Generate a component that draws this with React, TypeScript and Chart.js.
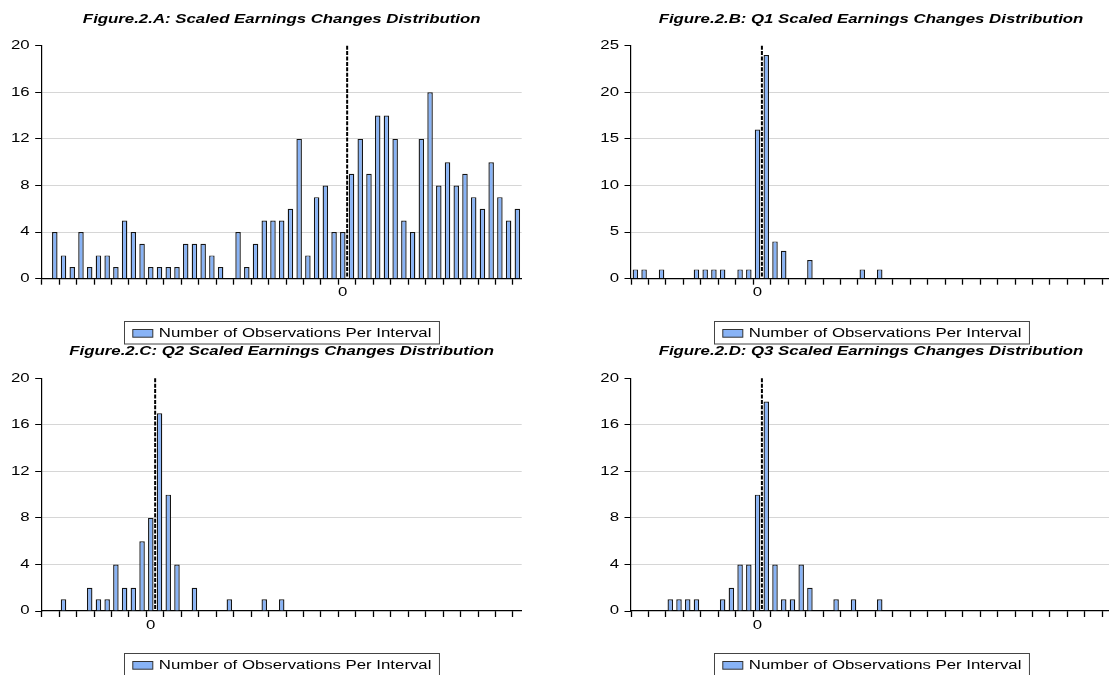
import React, { useEffect, useRef } from 'react';
import { Chart, registerables } from 'chart.js';

Chart.register(...registerables);

// ---- Data (counts per interval; one entry per bin) ----
const binsA = [0, 4, 2, 1, 4, 1, 2, 2, 1, 5, 4, 3, 1, 1, 1, 1, 3, 3, 3, 2, 1, 0, 4, 1, 3, 5, 5, 5, 6, 12, 2, 7, 8, 4, 4, 9, 12, 9, 14, 14, 12, 5, 4, 12, 16, 8, 10, 8, 9, 7, 6, 10, 7, 5, 6];
const binsB = [1, 1, 0, 1, 0, 0, 0, 1, 1, 1, 1, 0, 1, 1, 16, 24, 4, 3, 0, 0, 2, 0, 0, 0, 0, 0, 1, 0, 1, 0, 0, 0, 0, 0, 0, 0, 0, 0, 0, 0, 0, 0, 0, 0, 0, 0, 0, 0, 0, 0, 0, 0, 0, 0, 0];
const binsC = [0, 0, 1, 0, 0, 2, 1, 1, 4, 2, 2, 6, 8, 17, 10, 4, 0, 2, 0, 0, 0, 1, 0, 0, 0, 1, 0, 1, 0, 0, 0, 0, 0, 0, 0, 0, 0, 0, 0, 0, 0, 0, 0, 0, 0, 0, 0, 0, 0, 0, 0, 0, 0, 0, 0];
const binsD = [0, 0, 0, 0, 1, 1, 1, 1, 0, 0, 1, 2, 4, 4, 10, 18, 4, 1, 1, 4, 2, 0, 0, 1, 0, 1, 0, 0, 1, 0, 0, 0, 0, 0, 0, 0, 0, 0, 0, 0, 0, 0, 0, 0, 0, 0, 0, 0, 0, 0, 0, 0, 0, 0, 0];

// index of the bin labelled "0" (the zero line sits on its right edge)
const zeroA = 34;
const zeroB = 14;
const zeroC = 12;
const zeroD = 14;

const titleA = 'Figure.2.A: Scaled Earnings Changes Distribution';
const titleB = 'Figure.2.B: Q1 Scaled Earnings Changes Distribution';
const titleC = 'Figure.2.C: Q2 Scaled Earnings Changes Distribution';
const titleD = 'Figure.2.D: Q3 Scaled Earnings Changes Distribution';

const seriesLabel = 'Number of Observations Per Interval';
const xTickLabels = ['0'];

const yMaxA = 20, yStepA = 4;
const yMaxB = 25, yStepB = 5;
const yMaxC = 20, yStepC = 4;
const yMaxD = 20, yStepD = 4;

// ---- Styling ----
const FONT = "'Liberation Sans', Arial, Helvetica, sans-serif";
const BAR_FILL = '#88B3F6';
const BAR_EDGE = '#141414';
const GRID = '#d6d6d6';
const TEXT_STRETCH = 1.4; // reference text glyphs are horizontally stretched
const CANVAS_W = 560;

// draws every text horizontally stretched around its anchor point
const stretchTextPlugin = {
  id: 'stretchText',
  beforeDraw(chart: any) {
    const ctx = chart.ctx;
    if (ctx.__stretched) return;
    const orig = ctx.fillText;
    ctx.fillText = function (text: string, x: number, y: number, maxWidth?: number) {
      this.save();
      this.translate(x, y);
      this.scale(TEXT_STRETCH, 1);
      if (maxWidth === undefined) orig.call(this, text, 0, 0);
      else orig.call(this, text, 0, 0, maxWidth / TEXT_STRETCH);
      this.restore();
    };
    ctx.__stretched = true;
  },
};

const zeroLinePlugin = {
  id: 'zeroLine',
  afterDatasetsDraw(chart: any, _args: any, opts: any) {
    const xs = chart.scales.x;
    const { top, bottom } = chart.chartArea;
    const px = (xs.getPixelForValue(opts.index) + xs.getPixelForValue(opts.index + 1)) / 2;
    const ctx = chart.ctx;
    ctx.save();
    ctx.strokeStyle = '#000';
    ctx.lineWidth = 2;
    ctx.setLineDash([4, 1.4]);
    ctx.beginPath();
    ctx.moveTo(px, top);
    ctx.lineTo(px, bottom);
    ctx.stroke();
    ctx.restore();
  },
};

const boxLegendPlugin = {
  id: 'boxLegend',
  afterDraw(chart: any, _args: any, opts: any) {
    const ctx = chart.ctx;
    const ca = chart.chartArea;
    const ds = chart.data.datasets[0];
    ctx.save();
    ctx.font = `12px ${FONT}`;
    const tw = ctx.measureText(ds.label).width * TEXT_STRETCH;
    const padL = 8.3, sw = 20, sh = 7.7, gap = 6, padR = 8, h = 22.5;
    const w = padL + sw + gap + tw + padR;
    const cx = (ca.left + ca.right) / 2;
    const left = Math.round(cx - w / 2) + 0.5;
    const top = Math.round(ca.bottom + opts.offset) + 0.5;
    ctx.fillStyle = '#fff';
    ctx.fillRect(left, top, w, h);
    ctx.strokeStyle = '#444';
    ctx.lineWidth = 1;
    ctx.strokeRect(left, top, w, h);
    const cy = top + h / 2;
    ctx.fillStyle = ds.backgroundColor;
    ctx.fillRect(left + padL, Math.round(cy - sh / 2) + 0.5, sw, sh);
    ctx.strokeStyle = '#333';
    ctx.strokeRect(left + padL, Math.round(cy - sh / 2) + 0.5, sw, sh);
    ctx.fillStyle = '#000';
    ctx.textBaseline = 'middle';
    ctx.textAlign = 'left';
    ctx.fillText(ds.label, left + padL + sw + gap, cy + 0.5);
    ctx.restore();
  },
};

type PanelProps = {
  title: string;
  values: number[];
  zeroIndex: number;
  yMax: number;
  yStep: number;
  left: number;
  top: number;
  height: number;
  yWidth: number;
  padRight: number;
  titlePadTop: number;
  titlePadBottom: number;
  padBottom: number;
};

function Panel(p: PanelProps) {
  const ref = useRef<HTMLCanvasElement | null>(null);
  useEffect(() => {
    const canvas = ref.current;
    if (!canvas) return;
    const categories = p.values.map((_, i) => String(i - p.zeroIndex));
    const chart = new Chart(canvas, {
      type: 'bar',
      data: {
        labels: categories,
        datasets: [
          {
            label: seriesLabel,
            data: p.values,
            backgroundColor: BAR_FILL,
            borderColor: BAR_EDGE,
            borderWidth: { top: 1.2, left: 1.35, right: 1.35, bottom: 0 },
            barPercentage: 0.63,
            categoryPercentage: 1,
          },
        ],
      },
      options: {
        responsive: false,
        animation: false,
        devicePixelRatio: 1,
        events: [],
        layout: { padding: { left: 0, right: p.padRight, top: 0, bottom: p.padBottom } },
        plugins: {
          legend: { display: false },
          tooltip: { enabled: false },
          title: {
            display: true,
            text: p.title,
            fullSize: false,
            color: '#000',
            font: { family: FONT, size: 12, weight: 'bold', style: 'italic' },
            padding: { top: p.titlePadTop, bottom: p.titlePadBottom },
          },
          zeroLine: { index: p.zeroIndex },
          boxLegend: { offset: 41.8 },
        } as any,
        scales: {
          x: {
            type: 'category',
            offset: true,
            afterFit: (scale: any) => {
              scale.height = 30;
            },
            grid: {
              display: true,
              offset: true,
              drawOnChartArea: false,
              drawTicks: true,
              tickLength: 6,
              tickWidth: 1.3,
              color: 'transparent',
              tickColor: (c: any) => (typeof c.index === 'number' && c.index % 2 === 0 ? '#000' : 'transparent'),
            },
            border: { display: true, color: '#000', width: 1.2 },
            ticks: {
              autoSkip: false,
              maxRotation: 0,
              minRotation: 0,
              padding: 1,
              color: '#000',
              font: { family: FONT, size: 12 },
              callback: function (this: any, value: any) {
                const lab = this.getLabelForValue(value);
                return xTickLabels.includes(lab) ? lab : '';
              },
            },
          },
          y: {
            min: 0,
            max: p.yMax,
            afterFit: (scale: any) => {
              scale.width = p.yWidth;
            },
            grid: {
              color: (c: any) => (c.tick && c.tick.value > 0 && c.tick.value < p.yMax ? GRID : 'transparent'),
              tickColor: '#000',
              tickLength: 6.5,
              lineWidth: 1,
            },
            border: { display: true, color: '#000', width: 1.2 },
            ticks: {
              stepSize: p.yStep,
              padding: 5.5,
              color: '#000',
              font: { family: FONT, size: 12 },
            },
          },
        },
      } as any,
      plugins: [stretchTextPlugin, zeroLinePlugin, boxLegendPlugin],
    });
    return () => chart.destroy();
  }, []);
  return (
    <canvas
      ref={ref}
      width={CANVAS_W}
      height={p.height}
      style={{
        position: 'absolute',
        left: p.left,
        top: p.top,
        width: CANVAS_W,
        height: p.height,
      }}
    />
  );
}

export default function App() {
  const topRow = { top: 0, height: 346, titlePadTop: 12.3, titlePadBottom: 19, padBottom: 37.3 };
  const bottomRow = { top: 340, height: 335, titlePadTop: 4.5, titlePadBottom: 19.4, padBottom: 34 };
  const leftCol = { left: 0, yWidth: 41.7, padRight: 38.3 };
  const rightCol = { left: 560, yWidth: 71, padRight: 9 };
  return (
    <div
      style={{
        position: 'fixed',
        left: 0,
        top: 0,
        width: 1109,
        height: 675,
        overflow: 'hidden',
        background: '#fff',
      }}
    >
      <Panel title={titleA} values={binsA} zeroIndex={zeroA} yMax={yMaxA} yStep={yStepA} {...topRow} {...leftCol} />
      <Panel title={titleB} values={binsB} zeroIndex={zeroB} yMax={yMaxB} yStep={yStepB} {...topRow} {...rightCol} />
      <Panel title={titleC} values={binsC} zeroIndex={zeroC} yMax={yMaxC} yStep={yStepC} {...bottomRow} {...leftCol} />
      <Panel title={titleD} values={binsD} zeroIndex={zeroD} yMax={yMaxD} yStep={yStepD} {...bottomRow} {...rightCol} />
    </div>
  );
}
